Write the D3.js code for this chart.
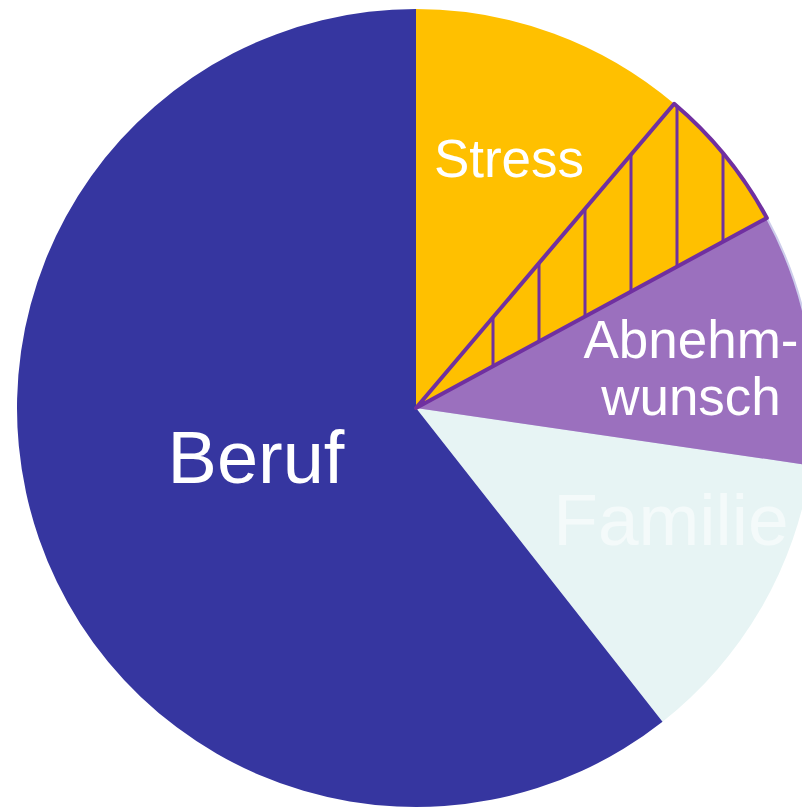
<!DOCTYPE html>
<html>
<head>
    <title>Pie chart</title>
    <script src="https://d3js.org/d3.v7.min.js"></script>
    <style>
        body { margin: 0; background: #fff; }
        svg { display: block; }
        text { font-family: "Liberation Sans", Arial, sans-serif; }
    </style>
</head>
<body>
    <div id="chart"></div>

    <script>
        // slice data (percent), clockwise from 12 o'clock
        var categories = ["Stress", "StressHatched", "Abnehmwunsch", "Familie", "Beruf"];
        var values = [11.2, 5.9, 10.2, 12.1, 60.6];
        var colors = ["#FFC000", "#FFC000", "#9B70BE", "#E7F4F4", "#3636A0"];

        var width = 802;
        var height = 810;
        var cx = 416, cy = 408;
        var radius = 399;

        var svg = d3.select("#chart")
            .append("svg")
            .attr("width", width)
            .attr("height", height);

        var g = svg.append("g")
            .attr("transform", "translate(" + cx + "," + cy + ")");

        var pie = d3.pie().sort(null).value(function(d) { return d; });
        var arcs = pie(values);

        var arc = d3.arc()
            .innerRadius(0)
            .outerRadius(radius);

        g.selectAll(".slice")
            .data(arcs)
            .enter()
            .append("path")
            .attr("class", "slice")
            .attr("d", arc)
            .attr("fill", function(d, i) { return colors[i]; })
            .attr("stroke", function(d, i) { return categories[i] === "Abnehmwunsch" ? "#CDCDEB" : "none"; })
            .attr("stroke-width", 2);

        // redraw purple slightly inside so only a thin light edge shows
        g.append("path")
            .attr("d", arc(arcs[2]))
            .attr("fill", colors[2])
            .attr("transform", "scale(0.995)");

        // hatched sub-slice: vertical lines clipped to the sector
        g.append("clipPath")
            .attr("id", "hatchClip")
            .append("path")
            .attr("d", arc(arcs[1]));

        g.append("g")
            .attr("clip-path", "url(#hatchClip)")
            .selectAll("line")
            .data(d3.range(493 - cx, radius, 46))
            .enter()
            .append("line")
            .attr("x1", function(d) { return d; })
            .attr("x2", function(d) { return d; })
            .attr("y1", -radius)
            .attr("y2", 0)
            .attr("stroke", "#7030A0")
            .attr("stroke-width", 3);

        g.append("path")
            .attr("d", arc(arcs[1]))
            .attr("fill", "none")
            .attr("stroke", "#7030A0")
            .attr("stroke-width", 4)
            .attr("stroke-linejoin", "round");

        // labels
        var labels = [
            { lines: ["Stress"], x: 509, y: 177, size: 53, color: "#fff" },
            { lines: ["Abnehm-", "wunsch"], x: 691, y: 358, size: 53, color: "#fff", lh: 57 },
            { lines: ["Familie"], x: 671, y: 545, size: 73, color: "#F4FAFA" },
            { lines: ["Beruf"], x: 256, y: 483, size: 74, color: "#fff" }
        ];

        labels.forEach(function(l) {
            var t = svg.append("text")
                .attr("text-anchor", "middle")
                .attr("font-size", l.size)
                .attr("fill", l.color);
            l.lines.forEach(function(s, k) {
                t.append("tspan")
                    .attr("x", l.x)
                    .attr("y", l.y + k * (l.lh || 0))
                    .text(s);
            });
        });
    </script>
</body>
</html>
